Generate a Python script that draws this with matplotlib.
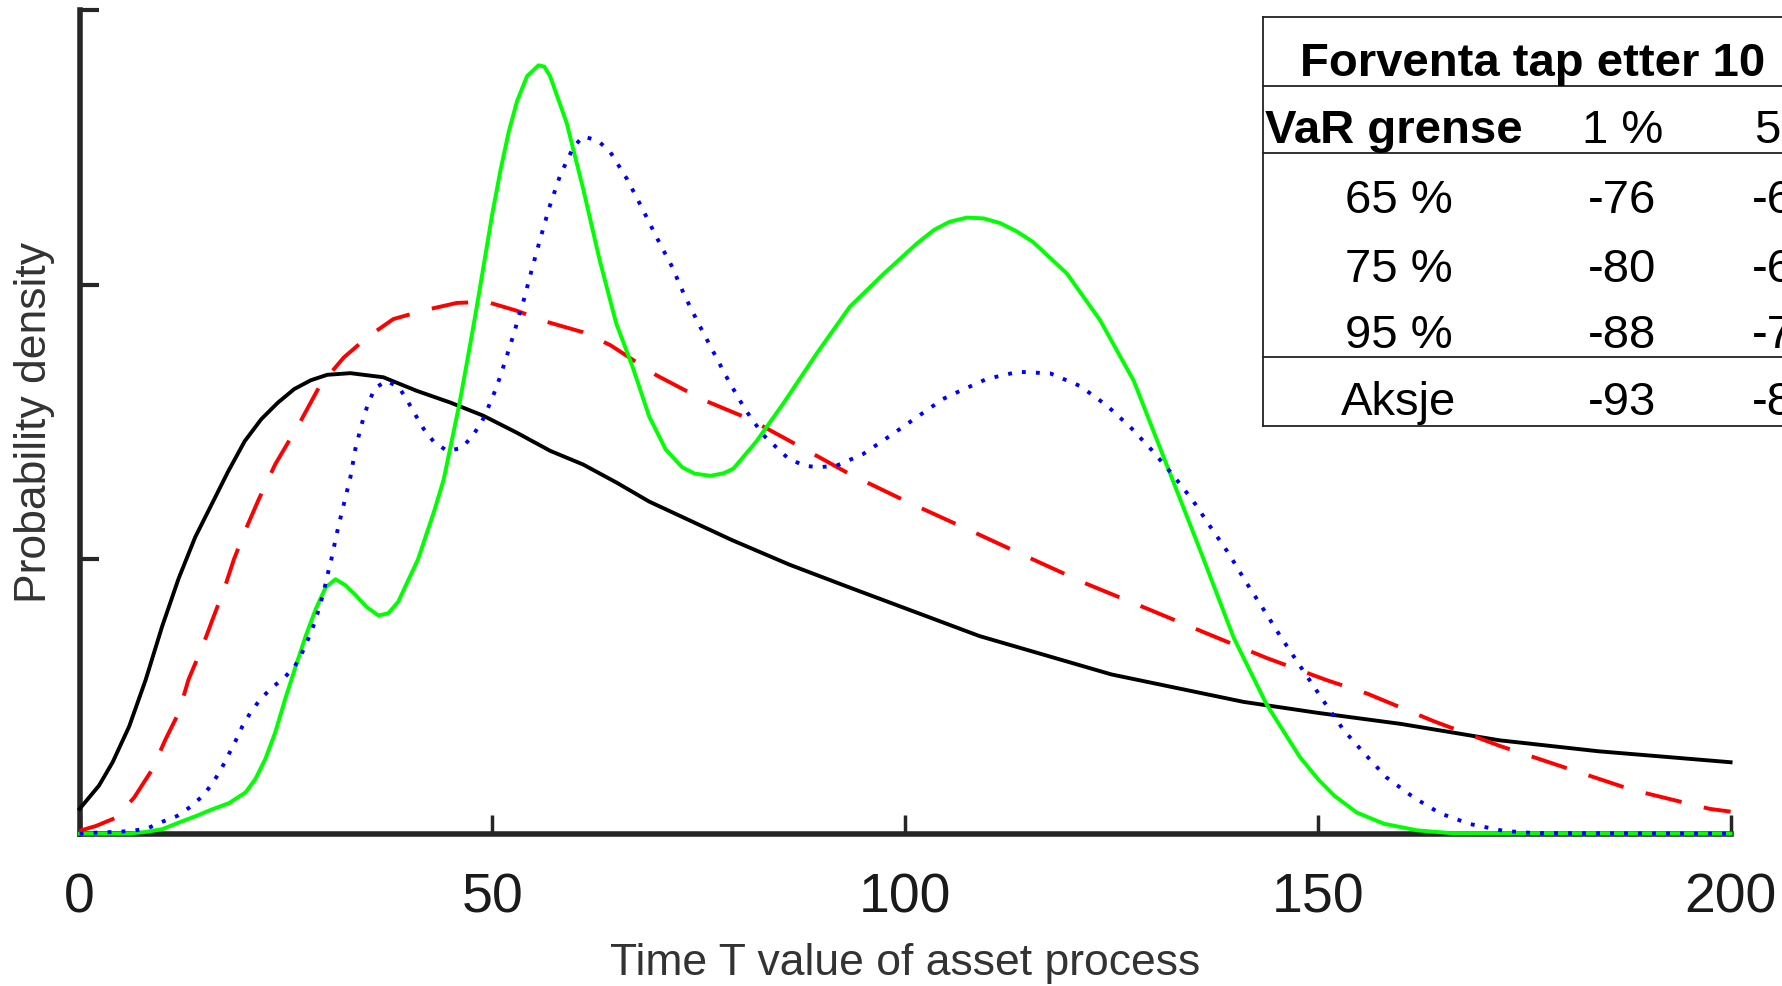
import matplotlib
matplotlib.use("Agg")
import matplotlib.pyplot as plt

plt.rcParams['font.family'] = ['Liberation Sans', 'DejaVu Sans']

# y in units of the (unlabelled) y tick spacing
black_x = [0, 2.35, 4, 6, 8, 10, 12, 14, 16, 18, 20, 22, 24, 26, 28, 30, 32.8, 36.8, 40.8, 44.9,
           48.9, 52.9, 57, 61, 65, 69, 74, 79, 86, 93, 101, 109, 117, 125, 133, 141, 150, 160,
           172, 184, 200]
black_y = [0.09, 0.175, 0.26, 0.39, 0.56, 0.755, 0.93, 1.08, 1.20, 1.32, 1.43, 1.51, 1.57,
           1.62, 1.652, 1.672, 1.678, 1.663, 1.614, 1.571, 1.523, 1.462, 1.395, 1.345, 1.28,
           1.21, 1.14, 1.07, 0.98, 0.90, 0.81, 0.72, 0.65, 0.58, 0.53, 0.48, 0.44, 0.40, 0.34,
           0.30, 0.26]

red_x = [0, 2, 4.4, 6.6, 8.8, 10.4, 12, 13.2, 14.9, 16.1, 17.5, 18.7, 20.3, 21.7, 23.7, 26.7,
         29.1, 32, 34.8, 38, 41.6, 45.7, 49.3, 52.9, 56.6, 61, 64.3, 69.9, 75.6, 81.2, 87.3,
         93.3, 100.2, 107.5, 114.7, 122, 129.3, 136.5, 143.8, 151, 156, 164, 172, 180, 188,
         197.5, 200]
red_y = [0.01, 0.028, 0.058, 0.131, 0.234, 0.343, 0.44, 0.562, 0.683, 0.78, 0.89, 1.0, 1.121,
         1.218, 1.346, 1.499, 1.632, 1.735, 1.808, 1.875, 1.906, 1.934, 1.938, 1.906, 1.865,
         1.827, 1.78, 1.67, 1.58, 1.51, 1.41, 1.31, 1.21, 1.11, 1.01, 0.91, 0.82, 0.73, 0.64,
         0.56, 0.51, 0.41, 0.32, 0.24, 0.16, 0.09, 0.08]

green_x = [0, 6, 8, 10, 12, 14.1, 16.1, 18.1, 20.1, 21.3, 22.5, 23.7, 24.9, 26.2, 27.4, 28.6,
           29.8, 31.0, 32.2, 33.4, 34.8, 36.2, 37.4, 38.6, 41, 43, 44.1, 45, 46, 47, 48, 49,
           50, 51, 52, 53, 54.2, 55.6, 56.3, 57, 59, 61, 63, 65, 67, 69, 71, 73, 74.5, 76.4,
           78, 79.2, 82, 85.3, 89.3, 93.3, 97.4, 101.4, 103.5, 105.4, 107.5, 109.5, 111.5,
           113.5, 115.5, 119.6, 123.6, 127.7, 131.7, 135.7, 139.8, 143.8, 147.8, 150, 152,
           154.7, 158, 162, 166, 200]
green_y = [0, 0, 0.006, 0.016, 0.040, 0.064, 0.089, 0.111, 0.150, 0.199, 0.272, 0.369, 0.490,
           0.612, 0.721, 0.818, 0.897, 0.927, 0.905, 0.870, 0.825, 0.795, 0.803, 0.845, 1.0,
           1.18, 1.29, 1.42, 1.565, 1.73, 1.90, 2.08, 2.26, 2.42, 2.56, 2.67, 2.76, 2.80,
           2.795, 2.76, 2.59, 2.35, 2.09, 1.86, 1.70, 1.52, 1.40, 1.335, 1.312, 1.304, 1.313,
           1.33, 1.43, 1.57, 1.75, 1.92, 2.04, 2.15, 2.20, 2.23, 2.245, 2.242, 2.225, 2.195,
           2.156, 2.041, 1.872, 1.65, 1.343, 1.036, 0.714, 0.47, 0.28, 0.199, 0.138, 0.077,
           0.036, 0.012, 0.002, 0]

blue_x = [0, 2.35, 4.4, 6.4, 8.2, 10, 11.8, 13.4, 14.9, 16.1, 17.1, 18.0, 18.9, 19.7, 20.7,
          21.9, 23.3, 24.8, 26.1, 27.0, 27.8, 28.5, 29.1, 29.6, 30.0, 30.5, 30.9, 31.3, 32.8,
          33.4, 33.9, 34.4, 35.0, 35.8, 37.2, 38.7, 39.7, 40.7, 41.7, 42.9, 44.5, 46.3, 47.6,
          48.7, 49.5, 50.2, 50.9, 51.5, 52.1, 52.7, 53.2, 53.8, 54.8, 55.8, 56.9, 58.2, 59.8,
          61.0, 62.8, 64.3, 66.3, 68.1, 69.9, 71.7, 73.3, 75.0, 76.8, 78.6, 80.6, 82.8, 85.7,
          87.7, 89.5, 91.7, 94.9, 98.2, 101.4, 104.6, 106.5, 109.9, 113.7, 117.6, 121.2, 124.4,
          127.3, 129.9, 132.5, 134.9, 137.1, 139.2, 141.2, 143.4, 145.4, 147.6, 150.9, 153.1,
          155.7, 158.3, 161.6, 164.8, 168.4, 172.5, 176.1, 200]
blue_y = [0, 0.004, 0.006, 0.010, 0.019, 0.043, 0.064, 0.097, 0.137, 0.183, 0.232, 0.285,
          0.338, 0.390, 0.441, 0.490, 0.532, 0.568, 0.611, 0.662, 0.717, 0.771, 0.830, 0.884,
          0.939, 1.0, 1.057, 1.113, 1.298, 1.401, 1.46, 1.517, 1.571, 1.624, 1.65, 1.626,
          1.578, 1.525, 1.474, 1.428, 1.395, 1.405, 1.45, 1.499, 1.553, 1.604, 1.661, 1.717,
          1.774, 1.830, 1.887, 1.944, 2.058, 2.167, 2.282, 2.398, 2.501, 2.541, 2.525, 2.483,
          2.386, 2.282, 2.173, 2.070, 1.960, 1.857, 1.754, 1.651, 1.547, 1.453, 1.371, 1.341,
          1.335, 1.341, 1.383, 1.450, 1.517, 1.584, 1.611, 1.657, 1.683, 1.677, 1.631, 1.561,
          1.481, 1.397, 1.305, 1.212, 1.113, 1.021, 0.921, 0.818, 0.722, 0.622, 0.474, 0.378,
          0.290, 0.205, 0.132, 0.074, 0.035, 0.010, 0.002, 0]

x_ticks = [0, 50, 100, 150, 200]
y_ticks = [0, 1, 2, 3]

table_title = "Forventa tap etter 10"
table_header = ["VaR grense", "1 %", "5 %"]
row_names = ["65 %", "75 %", "95 %", "Aksje"]
col_1pct = ["-76", "-80", "-88", "-93"]
col_5pct = ["-6", "-6", "-7", "-8"]

fig = plt.figure(figsize=(17.83, 9.87), dpi=100)
ax = fig.add_axes([0.04464, 0.15441, 0.92597, 0.83404])

lw = 2.8
ax.plot(black_x, black_y, color="black", lw=lw, zorder=3, clip_on=False,
        solid_joinstyle="round")
ax.plot(red_x, red_y, color="#ff0000", lw=lw, dashes=(9.5, 5.9), zorder=3, clip_on=False)
ax.plot(green_x, green_y, color="#00ff00", lw=lw, zorder=3, clip_on=False,
        solid_joinstyle="round")
ax.plot(blue_x, blue_y, color="#0000ff", lw=lw, dashes=(1, 2.6), zorder=3, clip_on=False)

ax.set_xlim(0, 200)
ax.set_ylim(0, 3)
ax.spines["top"].set_visible(False)
ax.spines["right"].set_visible(False)
for s in ["left", "bottom"]:
    ax.spines[s].set_linewidth(4)
    ax.spines[s].set_color("#262626")
ax.set_xticks(x_ticks)
ax.set_yticks(y_ticks)
ax.set_yticklabels([])
ax.tick_params(axis="x", direction="in", length=14, width=2.5, color="#262626",
               labelsize=40, pad=27, labelcolor="#1a1a1a")
ax.tick_params(axis="y", direction="in", length=14, width=3, color="#262626")

ax.set_xlabel("Time T value of asset process", fontsize=32, color="#333333")
ax.xaxis.label.set_va("center")
ax.xaxis.set_label_coords(0.5, -0.156)
ax.set_ylabel("Probability density", fontsize=32, color="#333333")
ax.yaxis.label.set_va("center")
ax.yaxis.set_label_coords(-0.0276, 0.5)

# table drawn in pixel coordinates on an overlay
tax = fig.add_axes([0, 0, 1, 1])
tax.set_xlim(0, 1783)
tax.set_ylim(987, 0)
tax.axis("off")
lc = "#222222"
tax.plot([1263, 1263], [18, 427], color=lc, lw=1.3)
for yy in [18, 87, 154, 358, 427]:
    tax.plot([1263, 1783], [yy, yy], color=lc, lw=1.3)

tax.text(1300, 76.5, table_title, fontsize=34, fontweight="bold", va="baseline", ha="left")
tax.text(1265, 143, table_header[0], fontsize=34, fontweight="bold", va="baseline", ha="left")
tax.text(1623, 143, table_header[1], fontsize=34, va="baseline", ha="center")
tax.text(1755, 143, table_header[2], fontsize=34, va="baseline", ha="left")
row_base = [213, 281.5, 348.5, 415]
for i in range(len(row_names)):
    tax.text(1399, row_base[i], row_names[i], fontsize=34, va="baseline", ha="center")
    tax.text(1622, row_base[i], col_1pct[i], fontsize=34, va="baseline", ha="center")
    tax.text(1752, row_base[i], col_5pct[i], fontsize=34, va="baseline", ha="left")

fig.savefig("out.png", dpi=100)
